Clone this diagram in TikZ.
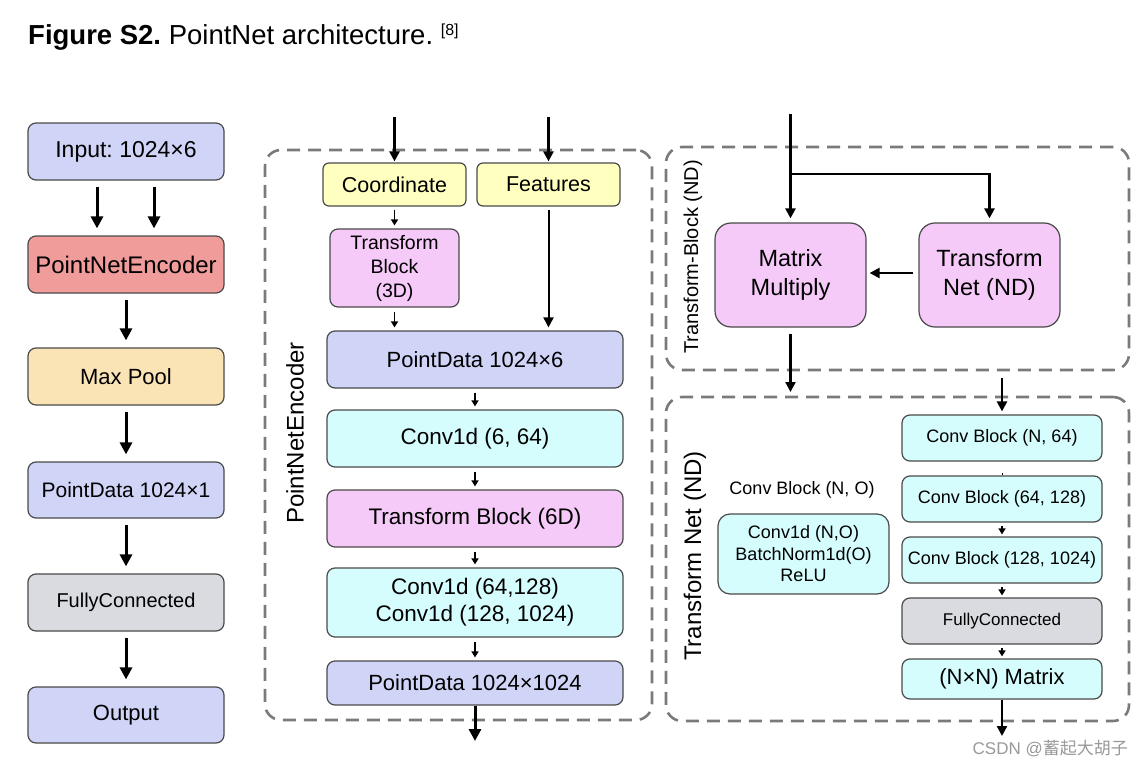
\documentclass[tikz,border=0pt]{standalone}
\usepackage{fontspec}
\setmainfont{Liberation Sans}
\newfontfamily\cjkfont{Noto Sans CJK SC}
\usetikzlibrary{arrows.meta}
\frenchspacing
\definecolor{lav}{HTML}{D0D5F8}
\definecolor{redbox}{HTML}{F09C9B}
\definecolor{orbox}{HTML}{FAE3B5}
\definecolor{graybox}{HTML}{D9DBE1}
\definecolor{yelbox}{HTML}{FFFFC0}
\definecolor{pinkbox}{HTML}{F5CAF8}
\definecolor{cyanbox}{HTML}{D5FDFD}
\definecolor{edge}{HTML}{4A4A4A}
\definecolor{dashcol}{HTML}{7A7A7A}
\newcommand{\fs}[2]{\fontsize{#1}{#2}\selectfont}
\tikzset{
  box/.style={draw=edge, line width=1.2pt, rounded corners=8pt, align=center, inner sep=0pt, text=black},
  dashbox/.style={draw=dashcol, line width=2.6pt, dash pattern=on 13pt off 8pt, rounded corners=16pt, inner sep=0pt},
  bigarrow/.style={line width=3pt, -{Triangle[length=12pt,width=12pt]}},
  midarrow/.style={line width=2.4pt, -{Triangle[length=10pt,width=10pt]}},
  smallarrow/.style={line width=1.5pt, -{Triangle[length=6pt,width=7pt]}},
  lbl/.style={inner sep=0pt, text=black},
}
\begin{document}
\begin{tikzpicture}[x=1pt,y=-1pt]
\useasboundingbox[fill=white] (0,0) rectangle (1144,768);

% title
\node[lbl, anchor=base west, font=\fs{27.5}{32}] (title) at (28,45) {\textbf{Figure S2.} PointNet architecture. \raisebox{9pt}{\fs{16}{19}[8]}};

% ---------------- left column ----------------
\node[box, fill=lav, minimum width=196pt, minimum height=57pt, font=\fs{23}{27}] (in) at (126,151.5) {Input: 1024×6};
\node[box, fill=redbox, minimum width=196pt, minimum height=57pt, font=\fs{24}{28}] (pne) at (126,264.5) {PointNetEncoder};
\node[box, fill=orbox, minimum width=196pt, minimum height=57pt, font=\fs{22}{26}] (mp) at (126,376.5) {Max Pool};
\node[box, fill=lav, minimum width=196pt, minimum height=56pt, font=\fs{21}{25}] (pd1) at (126,490) {PointData 1024×1};
\node[box, fill=graybox, minimum width=196pt, minimum height=57pt, font=\fs{20}{24}] (fcl) at (126,602.5) {FullyConnected};
\node[box, fill=lav, minimum width=196pt, minimum height=56pt, font=\fs{22}{26}] (out) at (126,715) {Output};

\draw[bigarrow, shorten <=6pt, shorten >=7pt] ([xshift=-29pt]in.south) -- ([xshift=-29pt]pne.north);
\draw[bigarrow, shorten <=6pt, shorten >=7pt] ([xshift=28pt]in.south) -- ([xshift=28pt]pne.north);
\draw[bigarrow, shorten <=6pt, shorten >=7pt] (pne) -- (mp);
\draw[bigarrow, shorten <=6pt, shorten >=7pt] (mp) -- (pd1);
\draw[bigarrow, shorten <=6pt, shorten >=7pt] (pd1) -- (fcl);
\draw[bigarrow, shorten <=6pt, shorten >=7pt] (fcl) -- (out);

% ---------------- PointNetEncoder ----------------
\node[dashbox, minimum width=387pt, minimum height=570pt] (encbox) at (458.5,435) {};
\node[lbl, rotate=90, font=\fs{24}{28}] (enclbl) at (295,433) {PointNetEncoder};

\node[box, fill=yelbox, minimum width=143pt, minimum height=43pt, rounded corners=6pt, font=\fs{21.5}{25}] (coord) at (394.5,184.5) {Coordinate};
\node[box, fill=yelbox, minimum width=143pt, minimum height=43pt, rounded corners=6pt, font=\fs{21.5}{25}] (feat) at (548.5,184.5) {Features};
\node[box, fill=pinkbox, minimum width=129pt, minimum height=78pt, font=\fs{19.5}{24}] (tb3) at (394.5,268) {Transform\\Block\\(3D)};
\node[box, fill=lav, minimum width=296pt, minimum height=57pt, font=\fs{22}{26}] (pd6) at (475,359.5) {PointData 1024×6};
\node[box, fill=cyanbox, minimum width=296pt, minimum height=57pt, font=\fs{22.5}{26}] (c1) at (475,438.5) {Conv1d (6, 64)};
\node[box, fill=pinkbox, minimum width=296pt, minimum height=57pt, font=\fs{22.5}{26}] (tb6) at (475,518.5) {Transform Block (6D)};
\node[box, fill=cyanbox, minimum width=296pt, minimum height=69pt, font=\fs{22.5}{27}] (c2) at (475,602.5) {Conv1d (64,128)\\Conv1d (128, 1024)};
\node[box, fill=lav, minimum width=296pt, minimum height=44pt, font=\fs{22}{26}] (pd1024) at (475,683) {PointData 1024×1024};

\coordinate (coordin) at (394.5,117);
\coordinate (featin) at (548.5,117);
\coordinate (encout) at (475,741);
\draw[midarrow, shorten >=1pt] (coordin) -- (coord.north);
\draw[midarrow, shorten >=1pt] (featin) -- (feat.north);
\draw[smallarrow, shorten <=3pt, shorten >=3pt] (coord) -- (tb3);
\draw[smallarrow, shorten <=4pt, shorten >=3pt] (tb3) -- (tb3 |- pd6.north);
\draw[midarrow, shorten <=3pt, shorten >=3pt, line width=2pt] (feat.south) -- (feat.south |- pd6.north);
\draw[smallarrow, shorten <=4pt, shorten >=3pt] (pd6) -- (c1);
\draw[smallarrow, shorten <=4pt, shorten >=3pt] (c1) -- (tb6);
\draw[smallarrow, shorten <=4pt, shorten >=3pt] (tb6) -- (c2);
\draw[smallarrow, shorten <=4pt, shorten >=3pt] (c2) -- (pd1024);
\draw[bigarrow] (pd1024) -- (encout);

% ---------------- Transform-Block (ND) ----------------
\node[dashbox, minimum width=463pt, minimum height=223pt] (tbbox) at (897.5,258.5) {};
\node[lbl, rotate=90, font=\fs{20}{24}] (tblbl) at (693,257) {Transform-Block (ND)};
\node[box, fill=pinkbox, minimum width=151pt, minimum height=104pt, rounded corners=16pt, font=\fs{23.5}{29}] (mm) at (790.5,275) {Matrix\\Multiply};
\node[box, fill=pinkbox, minimum width=141pt, minimum height=104pt, rounded corners=16pt, font=\fs{23.5}{29}] (tn) at (989.5,275) {Transform\\Net (ND)};
\coordinate (tbin) at (790.5,114);
\coordinate (branch) at (790.5,174);
\coordinate (tbout) at (790.5,392);
\draw[midarrow, shorten >=4pt] (tbin) -- (mm.north);
\draw[midarrow, shorten >=4pt] (branch) -| (tn.north);
\draw[midarrow, shorten <=5pt, shorten >=3pt] (tn.west |- 0,273) -- (mm.east |- 0,273);
\draw[midarrow, shorten <=6pt] (mm) -- (tbout);

% ---------------- Transform Net (ND) ----------------
\node[dashbox, minimum width=463pt, minimum height=324pt] (tnbox) at (897.5,559) {};
\node[lbl, rotate=90, font=\fs{24}{28}] (tnlbl) at (695,556) {Transform Net (ND)};
\node[lbl, font=\fs{18}{21}] (cbno) at (802,490) {Conv Block (N, O)};
\node[box, fill=cyanbox, minimum width=171pt, minimum height=80pt, rounded corners=12pt, font=\fs{18}{21.5}] (cbox) at (803.5,554) {Conv1d (N,O)\\BatchNorm1d(O)\\ReLU};

\node[box, fill=cyanbox, minimum width=200pt, minimum height=46pt, font=\fs{18}{21}] (cb1) at (1002,438) {Conv Block (N, 64)};
\node[box, fill=cyanbox, minimum width=200pt, minimum height=46pt, font=\fs{18}{21}] (cb2) at (1002,499) {Conv Block (64, 128)};
\node[box, fill=cyanbox, minimum width=200pt, minimum height=46pt, font=\fs{18}{21}] (cb3) at (1002,560) {Conv Block (128, 1024)};
\node[box, fill=graybox, minimum width=200pt, minimum height=46pt, font=\fs{17}{20}] (fc2) at (1002,621) {FullyConnected};
\node[box, fill=cyanbox, minimum width=200pt, minimum height=40pt, font=\fs{22}{26}] (nn) at (1002,679) {(N×N) Matrix};

\coordinate (tnin) at (1002,378);
\coordinate (tnout) at (1002,736);
\draw[midarrow, shorten >=3pt] (tnin) -- (cb1.north);
\draw[line width=1pt, shorten <=11pt] (cb1.south) -- (cb2.north);
\draw[smallarrow, shorten <=3pt, shorten >=2pt] (cb2) -- (cb3);
\draw[smallarrow, shorten <=3pt, shorten >=2pt] (cb3) -- (fc2);
\draw[smallarrow, shorten <=3pt, shorten >=2pt] (fc2) -- (nn);
\draw[midarrow] (nn) -- (tnout);

% watermark
\node[lbl, text=black!40, anchor=east, font=\fs{17}{20}] (wm) at (1128,749) {CSDN @{\cjkfont 蓄起大胡子}};
\end{tikzpicture}
\end{document}
